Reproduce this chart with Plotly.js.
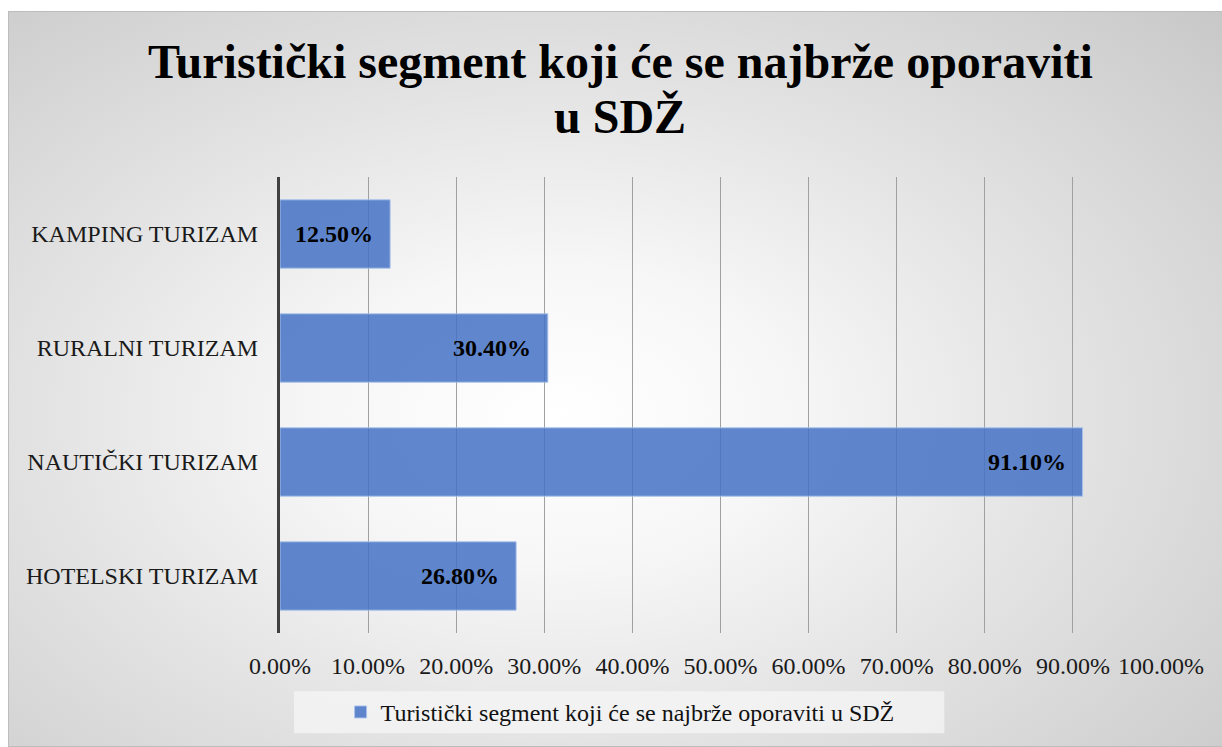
<!DOCTYPE html>
<html>
<head>
<meta charset="utf-8">
<script src="https://cdn.plot.ly/plotly-3.0.1.min.js"></script>
<style>
  html, body { margin:0; padding:0; background:#ffffff; }
  #frame {
    position:absolute; left:8px; top:11px; width:1214px; height:736px;
    box-sizing:border-box; border:1px solid #bdbdbd; border-right:none;
    background: radial-gradient(ellipse 75% 80% at 45% 55%, #ffffff 0%, #f7f7f7 25%, #e4e4e4 55%, #cfcfcf 90%, #c8c8c8 100%);
  }
  #chart { position:absolute; left:0; top:0; width:1222px; height:747px; }
</style>
</head>
<body>
<div id="frame"></div>
<div id="chart"></div>
<script>
const categories = ["HOTELSKI TURIZAM", "NAUTIČKI TURIZAM", "RURALNI TURIZAM", "KAMPING TURIZAM"];
const values = [0.268, 0.911, 0.304, 0.125];
const valueLabels = ["26.80%", "91.10%", "30.40%", "12.50%"];
const seriesName = "Turistički segment koji će se najbrže oporaviti u SDŽ";
const titleLine1 = "Turistički segment koji će se najbrže oporaviti";
const titleLine2 = "u SDŽ";
const tickVals = [0, 0.1, 0.2, 0.3, 0.4, 0.5, 0.6, 0.7, 0.8, 0.9, 1.0];
const tickText = ["0.00%", "10.00%", "20.00%", "30.00%", "40.00%", "50.00%", "60.00%", "70.00%", "80.00%", "90.00%", "100.00%"];

const serif = "Liberation Serif, Times New Roman, serif";

const trace = {
  type: "bar",
  orientation: "h",
  y: categories,
  x: values,
  name: seriesName,
  width: 0.6,
  marker: { color: "rgba(68,114,196,0.85)", line: { color: "rgba(170,195,235,0.9)", width: 1 } },
  hoverinfo: "none",
  showlegend: true
};

const annotations = values.map((v, i) => ({
  x: v, y: categories[i], xref: "x", yref: "y",
  text: "<b>" + valueLabels[i] + "</b>",
  showarrow: false, xanchor: "right", xshift: -15,
  font: { family: serif, size: 24, color: "#000000" }
}));

// title lines
annotations.push({
  xref: "paper", yref: "paper", x: (620 - 280) / 881, y: (637 - 60) / 460,
  text: "<b>" + titleLine1 + "</b>", showarrow: false, xanchor: "center", yanchor: "middle",
  font: { family: serif, size: 48, color: "#000000" }
});
annotations.push({
  xref: "paper", yref: "paper", x: (620 - 280) / 881, y: (637 - 116) / 460,
  text: "<b>" + titleLine2 + "</b>", showarrow: false, xanchor: "center", yanchor: "middle",
  font: { family: serif, size: 48, color: "#000000" }
});

const layout = {
  width: 1222, height: 747,
  paper_bgcolor: "rgba(0,0,0,0)",
  plot_bgcolor: "rgba(0,0,0,0)",
  margin: { l: 280, r: 61, t: 177, b: 110, pad: 0 },
  xaxis: {
    range: [0, 1.0], tickvals: tickVals, ticktext: tickText,
    showgrid: true, gridcolor: "#a0a0a0", gridwidth: 1,
    zeroline: false, showline: false, ticks: "",
    ticklabelstandoff: 16,
    tickfont: { family: serif, size: 24, color: "#1a1a1a" },
    fixedrange: true
  },
  yaxis: {
    type: "category", categoryorder: "array", categoryarray: categories,
    showgrid: false, zeroline: false,
    showline: true, linecolor: "#404040", linewidth: 3,
    ticks: "", ticklabelstandoff: 14,
    tickfont: { family: serif, size: 24, color: "#1a1a1a" },
    fixedrange: true
  },
  bargap: 0.4,
  showlegend: true,
  legend: {
    orientation: "h", x: 0.386, xanchor: "center", y: -0.174, yanchor: "middle",
    bgcolor: "rgba(0,0,0,0)", font: { family: serif, size: 24, color: "#111111" },
    itemwidth: 30
  },
  shapes: [{
    type: "rect", xref: "paper", yref: "paper", layer: "below",
    x0: 0.0159, x1: 0.754, y0: -0.128, y1: -0.2196,
    fillcolor: "rgba(245,245,245,0.75)", line: { width: 0 }
  }],
  annotations: annotations
};

Plotly.newPlot("chart", [trace], layout, { displayModeBar: false, staticPlot: true });
</script>
</body>
</html>
